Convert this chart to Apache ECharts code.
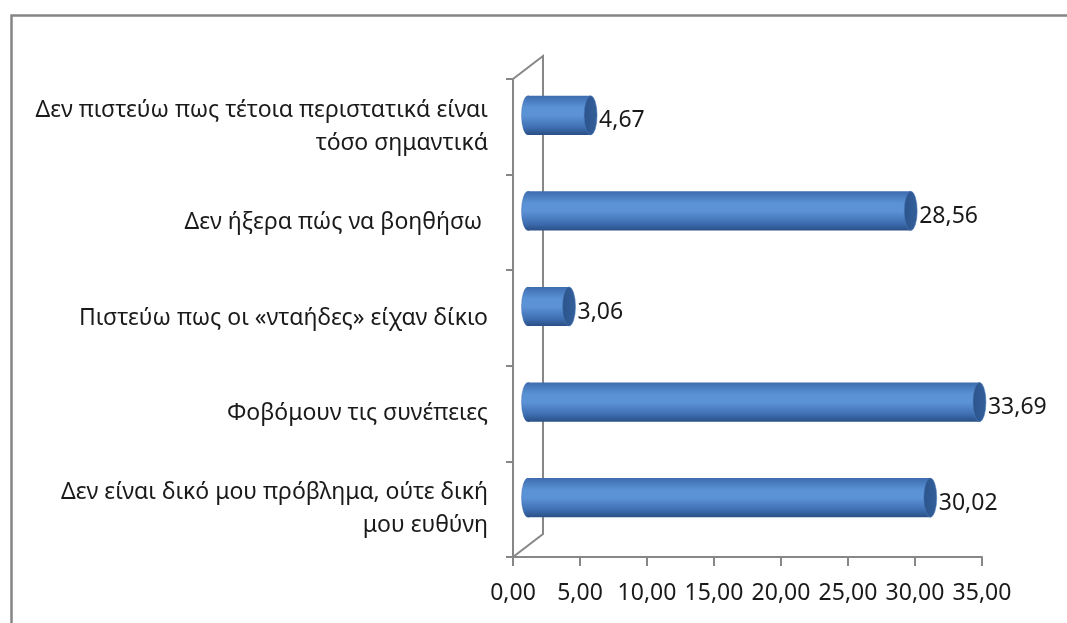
<!DOCTYPE html>
<html>
<head>
<meta charset="utf-8">
<script src="https://cdn.jsdelivr.net/npm/echarts@6/dist/echarts.min.js"></script>
<style>
html,body{margin:0;padding:0;background:#fff;}
#main{width:1067px;height:623px;}
</style>
</head>
<body>
<div id="main"></div>
<script>
const categories = [
  "Δεν πιστεύω πως τέτοια περιστατικά είναι\nτόσο σημαντικά",
  "Δεν ήξερα πώς να βοηθήσω ",
  "Πιστεύω πως οι «νταήδες» είχαν δίκιο",
  "Φοβόμουν τις συνέπειες",
  "Δεν είναι δικό μου πρόβλημα, ούτε δική\nμου ευθύνη"
];
const values = [4.67, 28.56, 3.06, 33.69, 30.02];
const axisMin = 0, axisMax = 35, axisStep = 5;

const FONT = "'Noto Sans', 'Open Sans', sans-serif";
const TEXT = '#1a1a1a';
const AXIS = '#878787';
const fmt = v => v.toFixed(2).replace('.', ',');

const DEPTH_X = 30, DEPTH_Y = 23;

const chart = echarts.init(document.getElementById('main'), null, {renderer: 'canvas'});

function renderItem(params, api) {
  const v = api.value(0), ci = api.value(1);
  const p0 = api.coord([0, ci]);
  const p1 = api.coord([v, ci]);
  const band = api.size([0, 1])[1];
  const hh = band * 0.205;
  const rx = 6.5;
  const cx0 = p0[0] + DEPTH_X / 2, cx1 = p1[0] + DEPTH_X / 2;
  const cy = p0[1] - DEPTH_Y / 2;
  const children = [];
  if (params.dataIndex === 0) {
    const cs = params.coordSys;
    const L = cs.x, T = cs.y, B = cs.y + cs.height;
    children.push({
      type: 'polyline',
      shape: {points: [[L, T], [L + DEPTH_X, T - DEPTH_Y], [L + DEPTH_X, B - DEPTH_Y], [L, B]]},
      style: {stroke: AXIS, lineWidth: 2, fill: null}
    });
  }
  const bodyFill = new echarts.graphic.LinearGradient(0, 0, 0, 1, [
    {offset: 0, color: '#3d6cae'},
    {offset: 0.3, color: '#5a92d6'},
    {offset: 0.5, color: '#5c93d7'},
    {offset: 0.8, color: '#3f70b3'},
    {offset: 1, color: '#2a4f86'}
  ]);
  children.push({
    type: 'circle',
    shape: {cx: 0, cy: 0, r: hh},
    x: cx0, y: cy, scaleX: rx / hh,
    style: {fill: bodyFill, stroke: '#3a66a3', lineWidth: 0.6}
  });
  children.push({
    type: 'rect',
    shape: {x: cx0, y: cy - hh, width: Math.max(cx1 - cx0, 0), height: hh * 2},
    style: {fill: bodyFill}
  });
  children.push({
    type: 'circle',
    shape: {cx: 0, cy: 0, r: hh},
    x: cx1, y: cy, scaleX: rx / hh,
    style: {
      fill: new echarts.graphic.LinearGradient(0, 0, 1, 0, [
        {offset: 0, color: '#2c548c'},
        {offset: 1, color: '#335f9a'}
      ]),
      stroke: '#4a7cc0', lineWidth: 0.8
    }
  });
  children.push({
    type: 'text',
    x: cx1 + rx + 2, y: cy + 5.5,
    style: {
      text: fmt(v), fill: TEXT, font: '23px ' + FONT,
      align: 'left', verticalAlign: 'middle'
    }
  });
  return {type: 'group', children};
}

chart.setOption({
  backgroundColor: '#ffffff',
  animation: false,
  graphic: [{
    type: 'rect', left: 9, top: 13,
    shape: {width: 1070, height: 620},
    style: {fill: null, stroke: '#858585', lineWidth: 2.5}
  }],
  grid: {left: 513, right: 85, top: 79, bottom: 66, containLabel: false},
  xAxis: {
    type: 'value', min: axisMin, max: axisMax, interval: axisStep,
    axisLine: {show: true, lineStyle: {color: AXIS, width: 2}},
    axisTick: {show: true, length: 9, lineStyle: {color: AXIS, width: 2}},
    splitLine: {show: false},
    axisLabel: {
      formatter: fmt, color: TEXT, fontFamily: FONT, fontSize: 23, margin: 25
    }
  },
  yAxis: {
    type: 'category', data: categories, inverse: true,
    axisLine: {show: true, lineStyle: {color: AXIS, width: 2}},
    axisTick: {show: true, length: 7, lineStyle: {color: AXIS, width: 2}},
    axisLabel: {
      color: TEXT, fontFamily: FONT, fontSize: 23, lineHeight: 33, margin: 25,
      align: 'right'
    }
  },
  series: [{
    type: 'custom',
    renderItem,
    encode: {x: 0, y: 1},
    data: values.map((v, i) => [v, i]),
    clip: false
  }]
});
</script>
</body>
</html>
